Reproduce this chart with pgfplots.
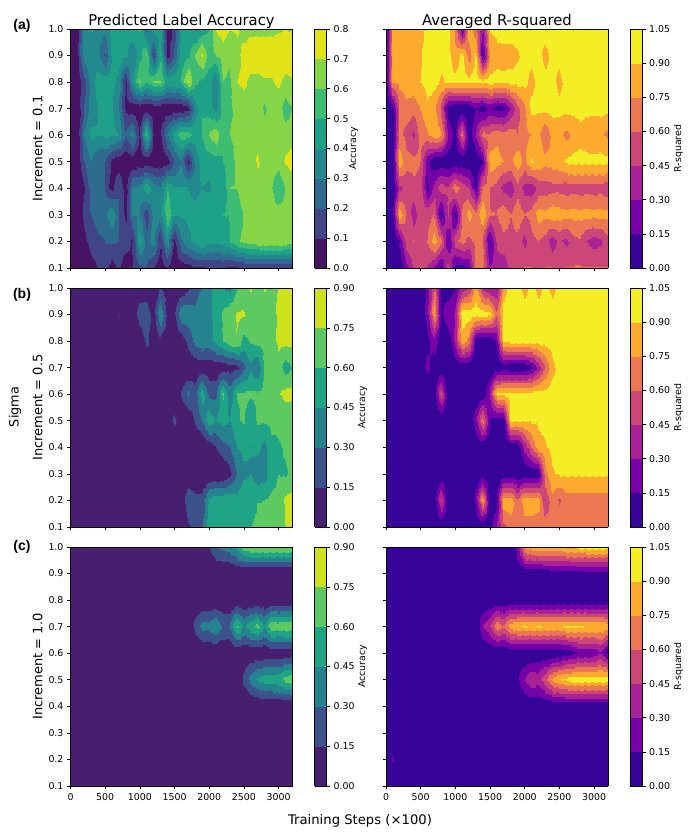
\documentclass[border=0pt]{standalone}
\usepackage{fontspec}
\usepackage{pgfplots}
\usepgfplotslibrary{patchplots}
\pgfplotsset{compat=1.18}
\setmainfont{DejaVu Sans}
\newfontfamily\helv{Liberation Sans}

\pgfplotsset{
  colormap={acc8}{rgb255=(71,19,101) rgb255=(65,68,135) rgb255=(47,107,142) rgb255=(35,137,142) rgb255=(31,161,135) rgb255=(63,188,115) rgb255=(134,213,73) rgb255=(223,227,24)},
  colormap={acc6}{rgb255=(72,31,112) rgb255=(59,82,139) rgb255=(38,130,142) rgb255=(32,164,134) rgb255=(94,201,98) rgb255=(205,225,29)},
  colormap={rsq7}{rgb255=(54,4,152) rgb255=(118,1,168) rgb255=(168,34,150) rgb255=(204,71,120) rgb255=(236,120,83) rgb255=(253,170,48) rgb255=(243,238,38)},
  panel/.style={
    width=222pt, height=239pt, scale only axis,
    view={0}{90}, xmin=0, xmax=3200, ymin=0.1, ymax=1,
    xtick={0,500,...,3000}, ytick={0.1,0.2,...,1.0},
    xticklabels={}, yticklabels={},
    tick align=outside, tick pos=left,
    /pgf/number format/assume math mode=true,
    tick label style={font=\fontsize{9.4}{11}\selectfont},
    every tick/.style={black,line width=0.6pt}, major tick length=3.5pt,
    axis line style={line width=0.6pt},
    colormap access=piecewise constant,
    title style={font=\fontsize{14.8}{16}\selectfont, yshift=-9pt},
    colorbar,
    colorbar style={
      width=12pt, height=239pt, scale only axis, at={(parent axis.north east)}, anchor=north west, xshift=13.5pt,
      tick align=outside, major tick length=3.5pt, ytick pos=right, yticklabel pos=right,
      tick label style={font=\fontsize{9.4}{11}\selectfont},
      ylabel style={font=\fontsize{9.4}{11}\selectfont, yshift=3pt},
      /pgf/number format/assume math mode=true,
    },
  },
  left panel/.style={
    yticklabels={0.1,0.2,0.3,0.4,0.5,0.6,0.7,0.8,0.9,1.0},
    ylabel style={font=\fontsize{13}{15}\selectfont, yshift=-1pt},
  },
  cplot/.style={
    surf, shader=interp, patch type=bilinear, patch refines=1, mesh/cols=33, mesh/rows=10, point meta=z,
  },
  table/cols/.style={
    header=false, row sep=crcr, z index=0,
    x expr={100*mod(\coordindex,33)},
    y expr={1.0-0.1*floor(\coordindex/33)},
  },
  rsq bar/.style={
    colormap name=rsq7, point meta min=0, point meta max=1.05,
    colorbar style={ylabel={R-squared}, ytick={0,0.15,...,1.05},
      yticklabels={0.00,0.15,0.30,0.45,0.60,0.75,0.90,1.05}},
  },
  acc6 bar/.style={
    colormap name=acc6, point meta min=0, point meta max=0.9,
    colorbar style={ylabel={Accuracy}, ytick={0,0.15,...,0.9},
      yticklabels={0.00,0.15,0.30,0.45,0.60,0.75,0.90}},
  },
}

\begin{document}
\begin{tikzpicture}
\path (0pt,0pt) rectangle (692pt,834pt);

% row (a)
\begin{axis}[panel, left panel, at={(70.5pt,566pt)}, anchor=south west,
  colormap name=acc8, point meta min=0, point meta max=0.8,
  colorbar style={ylabel={Accuracy}, ytick={0,0.1,...,0.8},
    ylabel style={yshift=3pt},
    yticklabels={0.0,0.1,0.2,0.3,0.4,0.5,0.6,0.7,0.8}},
  ylabel={Increment = 0.1},
  title={Predicted Label Accuracy}]
\addplot3[cplot] table[cols] {
.02\\.05\\.38\\.42\\.33\\.33\\.45\\.43\\.45\\.47\\.52\\.25\\.45\\.42\\.05\\.12\\.45\\.46\\.37\\.43\\.5\\.71\\.75\\.7\\.72\\.66\\.68\\.68\\.68\\.68\\.69\\.7\\.69\\
.02\\.06\\.38\\.33\\.34\\.18\\.42\\.45\\.43\\.3\\.45\\.6\\.12\\.5\\.05\\.2\\.46\\.47\\.6\\.72\\.55\\.6\\.65\\.62\\.65\\.74\\.75\\.75\\.75\\.75\\.75\\.75\\.75\\
.01\\.03\\.15\\.35\\.45\\.45\\.42\\.38\\.08\\.4\\.62\\.5\\.6\\.6\\.45\\.48\\.5\\.72\\.52\\.48\\.45\\.3\\.6\\.58\\.7\\.72\\.68\\.68\\.69\\.69\\.72\\.68\\.69\\
.01\\.02\\.2\\.34\\.4\\.42\\.42\\.3\\.08\\.03\\.03\\.03\\.03\\.03\\.03\\.03\\.03\\.05\\.35\\.5\\.45\\.35\\.55\\.58\\.63\\.65\\.65\\.65\\.58\\.65\\.65\\.55\\.6\\
.01\\.02\\.3\\.42\\.4\\.42\\.42\\.4\\.2\\.35\\.08\\.55\\.1\\.08\\.3\\.45\\.55\\.55\\.45\\.5\\.6\\.68\\.5\\.6\\.63\\.65\\.65\\.65\\.65\\.65\\.65\\.65\\.65\\
.01\\.03\\.2\\.3\\.22\\.2\\.08\\.03\\.03\\.03\\.03\\.03\\.03\\.03\\.05\\.2\\.3\\.05\\.32\\.45\\.45\\.45\\.5\\.55\\.62\\.65\\.65\\.72\\.65\\.65\\.65\\.71\\.75\\
.01\\.01\\.08\\.25\\.25\\.2\\.05\\.2\\.05\\.3\\.32\\.48\\.35\\.3\\.5\\.4\\.4\\.4\\.38\\.4\\.38\\.45\\.42\\.6\\.6\\.65\\.62\\.65\\.65\\.62\\.5\\.6\\.63\\
.01\\.02\\.13\\.2\\.25\\.25\\.4\\.2\\.07\\.3\\.3\\.12\\.35\\.35\\.6\\.4\\.42\\.42\\.42\\.45\\.5\\.4\\.5\\.5\\.55\\.6\\.63\\.65\\.65\\.65\\.65\\.65\\.62\\
.01\\.02\\.06\\.15\\.18\\.2\\.22\\.2\\.15\\.08\\.45\\.25\\.35\\.1\\.38\\.06\\.28\\.38\\.42\\.5\\.42\\.42\\.45\\.5\\.58\\.62\\.66\\.67\\.68\\.68\\.68\\.67\\.65\\
.01\\.02\\.03\\.05\\.1\\.18\\.05\\.12\\.03\\.1\\.18\\.2\\.1\\.05\\.1\\.03\\.05\\.05\\.1\\.08\\.12\\.1\\.12\\.08\\.1\\.1\\.12\\.12\\.12\\.12\\.12\\.12\\.12\\
};
\end{axis}
\begin{axis}[panel, rsq bar, at={(386pt,566pt)}, anchor=south west,
  title={Averaged R-squared}]
\addplot3[cplot] table[cols] {
.02\\.75\\.85\\.85\\.85\\.85\\.95\\.95\\.95\\.95\\.7\\.1\\.9\\.6\\.3\\.92\\.95\\.97\\.97\\.97\\.97\\.97\\.97\\.97\\.97\\.97\\.97\\.97\\.97\\.97\\.97\\.97\\.97\\
.02\\.75\\.85\\.85\\.85\\.88\\.97\\.97\\.95\\.95\\.8\\.95\\.65\\.95\\.05\\.75\\.85\\.85\\.85\\.88\\.95\\.95\\.95\\.85\\.95\\.95\\.97\\.97\\.97\\.97\\.97\\.97\\.97\\
.02\\.75\\.8\\.85\\.87\\.9\\.95\\.95\\.88\\.92\\.95\\.95\\.95\\.95\\.95\\.95\\.95\\.93\\.95\\.95\\.95\\.85\\.95\\.95\\.95\\.85\\.97\\.97\\.97\\.97\\.97\\.97\\.97\\
.02\\.05\\.6\\.7\\.65\\.75\\.88\\.8\\.55\\.05\\.03\\.03\\.03\\.15\\.05\\.2\\.08\\.1\\.3\\.55\\.72\\.95\\.92\\.95\\.95\\.95\\.95\\.95\\.95\\.95\\.95\\.95\\.95\\
.02\\.02\\.65\\.55\\.42\\.65\\.72\\.85\\.78\\.3\\.08\\.65\\.05\\.3\\.65\\.6\\.72\\.65\\.7\\.6\\.72\\.75\\.8\\.6\\.8\\.8\\.7\\.78\\.85\\.8\\.75\\.8\\.7\\
.02\\.05\\.85\\.65\\.65\\.6\\.2\\.05\\.03\\.03\\.03\\.03\\.03\\.03\\.12\\.85\\.8\\.75\\.7\\.85\\.7\\.92\\.85\\.8\\.82\\.85\\.92\\.95\\.95\\.95\\.95\\.95\\.95\\
.03\\.03\\.4\\.5\\.55\\.55\\.1\\.35\\.55\\.45\\.7\\.55\\.45\\.1\\.65\\.6\\.55\\.4\\.35\\.55\\.4\\.35\\.5\\.52\\.55\\.55\\.52\\.55\\.52\\.55\\.52\\.55\\.48\\
.03\\.08\\.85\\.6\\.35\\.55\\.55\\.6\\.05\\.5\\.05\\.6\\.82\\.65\\.88\\.6\\.6\\.7\\.6\\.7\\.6\\.65\\.82\\.78\\.85\\.82\\.8\\.8\\.8\\.8\\.8\\.8\\.8\\
.03\\.03\\.15\\.55\\.6\\.5\\.6\\.82\\.65\\.1\\.55\\.65\\.55\\.65\\.6\\.08\\.5\\.55\\.55\\.55\\.4\\.55\\.6\\.55\\.35\\.5\\.4\\.55\\.58\\.45\\.38\\.42\\.55\\
.02\\.03\\.05\\.25\\.45\\.6\\.45\\.3\\.1\\.55\\.1\\.1\\.15\\.65\\.7\\.3\\.35\\.35\\.5\\.55\\.6\\.6\\.55\\.6\\.6\\.55\\.6\\.6\\.6\\.6\\.6\\.6\\.6\\
};
\end{axis}

% row (b)
\begin{axis}[panel, left panel, acc6 bar, at={(70.5pt,307pt)}, anchor=south west,
  ylabel={Increment = 0.5}]
\addplot3[cplot] table[cols] {
0\\0\\0\\0\\0\\0\\0\\0\\0\\0\\0\\0\\0\\.15\\.05\\.02\\.02\\.12\\.25\\.3\\.42\\.5\\.45\\.4\\.6\\.6\\.78\\.62\\.78\\.6\\.78\\.8\\.8\\
0\\0\\0\\0\\0\\0\\0\\.16\\.02\\.02\\.25\\.28\\.05\\.45\\.1\\.1\\.42\\.4\\.32\\.45\\.42\\.5\\.62\\.7\\.76\\.78\\.65\\.7\\.62\\.7\\.78\\.8\\.8\\
0\\0\\0\\0\\0\\0\\0\\0\\0\\0\\0\\.2\\.05\\.1\\.05\\.05\\.05\\.2\\.35\\.42\\.38\\.5\\.6\\.7\\.75\\.55\\.62\\.65\\.66\\.68\\.78\\.8\\.8\\
0\\0\\0\\0\\0\\0\\0\\0\\0\\0\\0\\0\\0\\0\\0\\0\\0\\0\\.05\\.05\\.05\\.05\\.05\\.1\\.1\\.25\\.42\\.3\\.62\\.66\\.7\\.52\\.6\\
0\\0\\0\\0\\0\\0\\0\\0\\0\\0\\0\\0\\0\\0\\0\\0\\.15\\.33\\.2\\.55\\.25\\.25\\.65\\.35\\.6\\.62\\.62\\.62\\.62\\.64\\.73\\.8\\.8\\
0\\0\\0\\0\\0\\0\\0\\0\\0\\0\\0\\0\\0\\0\\.03\\.2\\.02\\.02\\.17\\.3\\.55\\.45\\.5\\.45\\.58\\.62\\.5\\.62\\.62\\.64\\.64\\.64\\.64\\
0\\0\\0\\0\\0\\0\\0\\0\\0\\0\\0\\0\\0\\0\\0\\0\\0\\0\\0\\0\\.05\\.15\\.25\\.3\\.45\\.5\\.45\\.5\\.4\\.55\\.58\\.62\\.64\\
0\\0\\0\\0\\0\\0\\0\\0\\0\\0\\0\\0\\0\\0\\0\\0\\0\\0\\0\\0\\0\\0\\0\\.1\\.3\\.4\\.45\\.35\\.38\\.55\\.6\\.58\\.63\\
0\\0\\0\\0\\0\\0\\0\\0\\0\\0\\0\\0\\0\\0\\0\\0\\.02\\.28\\.2\\.2\\.48\\.55\\.55\\.55\\.5\\.6\\.55\\.6\\.6\\.62\\.64\\.78\\.8\\
0\\0\\0\\0\\0\\0\\0\\0\\0\\0\\0\\0\\0\\0\\0\\0\\0\\.12\\.2\\.28\\.5\\.55\\.55\\.5\\.55\\.45\\.6\\.62\\.63\\.63\\.64\\.75\\.8\\
};
\end{axis}
\begin{axis}[panel, rsq bar, at={(386pt,307pt)}, anchor=south west]
\addplot3[cplot] table[cols] {
.02\\.02\\.02\\.02\\.02\\.02\\.2\\.6\\.1\\.02\\.15\\.35\\.45\\.85\\.4\\.3\\.3\\.85\\.95\\.95\\.85\\.95\\.85\\.95\\.85\\.97\\.97\\.97\\.97\\.97\\.97\\.97\\.97\\
.02\\.02\\.02\\.02\\.02\\.02\\.2\\.8\\.1\\.3\\.3\\.98\\.98\\.95\\.98\\.95\\.6\\.95\\.97\\.97\\.97\\.97\\.97\\.97\\.97\\.97\\.97\\.97\\.97\\.97\\.97\\.97\\.97\\
.02\\.02\\.02\\.02\\.02\\.02\\.1\\.25\\.02\\.02\\.35\\.85\\.7\\.08\\.02\\.02\\.2\\.92\\.97\\.97\\.97\\.97\\.97\\.97\\.97\\.97\\.97\\.97\\.97\\.97\\.97\\.97\\.97\\
.02\\.02\\.02\\.02\\.02\\.02\\.2\\.05\\.02\\.02\\.02\\.02\\.02\\.02\\.02\\.02\\.02\\.05\\.03\\.03\\.03\\.1\\.35\\.6\\.85\\.95\\.97\\.97\\.97\\.97\\.97\\.97\\.97\\
.02\\.02\\.02\\.02\\.02\\.02\\.02\\.05\\.55\\.02\\.02\\.02\\.02\\.02\\.02\\.3\\.92\\.95\\.95\\.95\\.95\\.95\\.95\\.95\\.97\\.97\\.97\\.97\\.97\\.97\\.97\\.97\\.97\\
.02\\.02\\.02\\.02\\.02\\.02\\.02\\.02\\.02\\.02\\.02\\.02\\.02\\.25\\.7\\.15\\.05\\.05\\.92\\.92\\.92\\.92\\.92\\.95\\.97\\.97\\.97\\.97\\.97\\.97\\.97\\.97\\.97\\
.02\\.02\\.02\\.02\\.02\\.02\\.02\\.02\\.02\\.02\\.02\\.02\\.02\\.02\\.02\\.02\\.02\\.02\\.02\\.02\\.35\\.6\\.85\\.88\\.95\\.97\\.97\\.97\\.97\\.97\\.97\\.97\\.97\\
.02\\.02\\.02\\.02\\.02\\.02\\.02\\.02\\.02\\.02\\.02\\.02\\.02\\.02\\.02\\.02\\.02\\.02\\.02\\.02\\.02\\.02\\.05\\.7\\.88\\.92\\.93\\.93\\.93\\.93\\.93\\.93\\.93\\
.02\\.02\\.02\\.02\\.02\\.02\\.02\\.02\\.5\\.02\\.02\\.02\\.02\\.2\\.8\\.05\\.1\\.85\\.85\\.6\\.85\\.85\\.82\\.45\\.72\\.58\\.68\\.68\\.68\\.68\\.68\\.68\\.68\\
.02\\.02\\.02\\.02\\.02\\.02\\.02\\.02\\.02\\.02\\.02\\.02\\.02\\.02\\.02\\.02\\.3\\.55\\.68\\.68\\.68\\.68\\.68\\.68\\.68\\.68\\.68\\.68\\.68\\.68\\.68\\.68\\.68\\
};
\end{axis}

% row (c)
\begin{axis}[panel, left panel, acc6 bar, at={(70.5pt,48pt)}, anchor=south west,
  xticklabels={0,500,1000,1500,2000,2500,3000},
  ylabel={Increment = 1.0}]
\addplot3[cplot] table[cols] {
0\\0\\0\\0\\0\\0\\0\\0\\0\\0\\0\\0\\0\\0\\0\\0\\0\\0\\0\\0\\.15\\.3\\.35\\.4\\.5\\.7\\.75\\.78\\.78\\.76\\.8\\.78\\.78\\
0\\0\\0\\0\\0\\0\\0\\0\\0\\0\\0\\0\\0\\0\\0\\0\\0\\0\\0\\0\\0\\0\\0\\0\\0\\0\\0\\0\\0\\0\\0\\0\\0\\
0\\0\\0\\0\\0\\0\\0\\0\\0\\0\\0\\0\\0\\0\\0\\0\\0\\0\\0\\0\\0\\0\\0\\0\\0\\0\\0\\0\\0\\0\\0\\0\\0\\
0\\0\\0\\0\\0\\0\\0\\0\\0\\0\\0\\0\\0\\0\\0\\0\\0\\0\\.2\\.35\\.36\\.45\\.28\\.3\\.65\\.42\\.55\\.66\\.45\\.72\\.68\\.72\\.72\\
0\\0\\0\\0\\0\\0\\0\\0\\0\\0\\0\\0\\0\\0\\0\\0\\0\\0\\0\\0\\0\\0\\0\\0\\.03\\.03\\.03\\.03\\.03\\.04\\.04\\.04\\.04\\
0\\0\\0\\0\\0\\0\\0\\0\\0\\0\\0\\0\\0\\0\\0\\0\\0\\0\\0\\0\\0\\0\\0\\0\\0\\.18\\.35\\.47\\.52\\.53\\.55\\.66\\.7\\
0\\0\\0\\0\\0\\0\\0\\0\\0\\0\\0\\0\\0\\0\\0\\0\\0\\0\\0\\0\\0\\0\\0\\0\\0\\0\\0\\0\\0\\0\\0\\0\\0\\
0\\0\\0\\0\\0\\0\\0\\0\\0\\0\\0\\0\\0\\0\\0\\0\\0\\0\\0\\0\\0\\0\\0\\0\\0\\0\\0\\0\\0\\0\\0\\0\\0\\
0\\0\\0\\0\\0\\0\\0\\0\\0\\0\\0\\0\\0\\0\\0\\0\\0\\0\\0\\0\\0\\0\\0\\0\\0\\0\\0\\0\\0\\0\\0\\0\\0\\
0\\0\\0\\0\\0\\0\\0\\0\\0\\0\\0\\0\\0\\0\\0\\0\\0\\0\\0\\0\\0\\0\\0\\0\\0\\0\\0\\0\\0\\0\\0\\0\\0\\
};
\end{axis}
\begin{axis}[panel, rsq bar, at={(386pt,48pt)}, anchor=south west,
  xticklabels={0,500,1000,1500,2000,2500,3000}]
\addplot3[cplot] table[cols] {
.01\\.01\\.01\\.01\\.01\\.01\\.01\\.01\\.01\\.01\\.01\\.01\\.01\\.01\\.01\\.01\\.01\\.01\\.01\\.25\\.78\\.85\\.88\\.88\\.88\\.9\\.92\\.94\\.96\\.97\\.98\\.98\\.98\\
.01\\.01\\.01\\.01\\.01\\.01\\.01\\.01\\.01\\.01\\.01\\.01\\.01\\.01\\.01\\.01\\.01\\.01\\.01\\.01\\.02\\.02\\.03\\.04\\.05\\.05\\.07\\.08\\.09\\.1\\.11\\.11\\.11\\
.01\\.01\\.01\\.01\\.01\\.01\\.01\\.01\\.01\\.01\\.01\\.01\\.01\\.01\\.01\\.01\\.01\\.01\\.01\\.01\\.01\\.01\\.01\\.01\\.01\\.01\\.01\\.01\\.01\\.01\\.01\\.01\\.01\\
.01\\.01\\.01\\.01\\.01\\.01\\.01\\.01\\.01\\.01\\.01\\.01\\.01\\.01\\.3\\.42\\.72\\.6\\.85\\.87\\.92\\.87\\.92\\.87\\.87\\.87\\.92\\.92\\.92\\.88\\.88\\.88\\.85\\
.01\\.01\\.01\\.01\\.01\\.01\\.01\\.01\\.01\\.01\\.01\\.01\\.01\\.01\\.01\\.01\\.01\\.01\\.01\\.01\\.01\\.01\\.01\\.01\\.01\\.02\\.08\\.1\\.2\\.2\\.2\\.3\\.08\\
.01\\.01\\.01\\.01\\.01\\.01\\.01\\.01\\.01\\.01\\.01\\.01\\.01\\.01\\.01\\.01\\.01\\.01\\.01\\.12\\.3\\.42\\.38\\.55\\.78\\.88\\.95\\.97\\.97\\.97\\.97\\.98\\.98\\
.01\\.01\\.01\\.01\\.01\\.01\\.01\\.01\\.01\\.01\\.01\\.01\\.01\\.01\\.01\\.01\\.01\\.01\\.01\\.01\\.01\\.01\\.01\\.01\\.01\\.01\\.01\\.01\\.01\\.01\\.01\\.01\\.01\\
.01\\.01\\.01\\.01\\.01\\.01\\.01\\.01\\.01\\.01\\.01\\.01\\.01\\.01\\.01\\.01\\.01\\.01\\.01\\.01\\.01\\.01\\.01\\.01\\.01\\.01\\.01\\.01\\.01\\.01\\.01\\.01\\.01\\
.01\\.18\\.01\\.01\\.01\\.01\\.01\\.01\\.01\\.01\\.01\\.01\\.01\\.01\\.01\\.01\\.01\\.01\\.01\\.01\\.01\\.01\\.01\\.01\\.01\\.01\\.01\\.01\\.01\\.01\\.01\\.01\\.01\\
.01\\.01\\.01\\.01\\.01\\.01\\.01\\.01\\.01\\.01\\.01\\.01\\.01\\.01\\.01\\.01\\.01\\.01\\.01\\.01\\.01\\.01\\.01\\.01\\.01\\.01\\.01\\.01\\.01\\.01\\.01\\.01\\.01\\
};
\end{axis}

\node[font=\helv\bfseries\fontsize{14}{16}\selectfont] at (22pt,808pt) {(a)};
\node[font=\helv\bfseries\fontsize{14}{16}\selectfont] at (22pt,539pt) {(b)};
\node[font=\helv\bfseries\fontsize{14}{16}\selectfont] at (22pt,287pt) {(c)};
\node[rotate=90, font=\fontsize{12.8}{15}\selectfont] at (15pt,427pt) {Sigma};
\node[font=\fontsize{13.2}{15}\selectfont] at (360pt,13pt) {Training Steps (×100)};
\end{tikzpicture}
\end{document}
